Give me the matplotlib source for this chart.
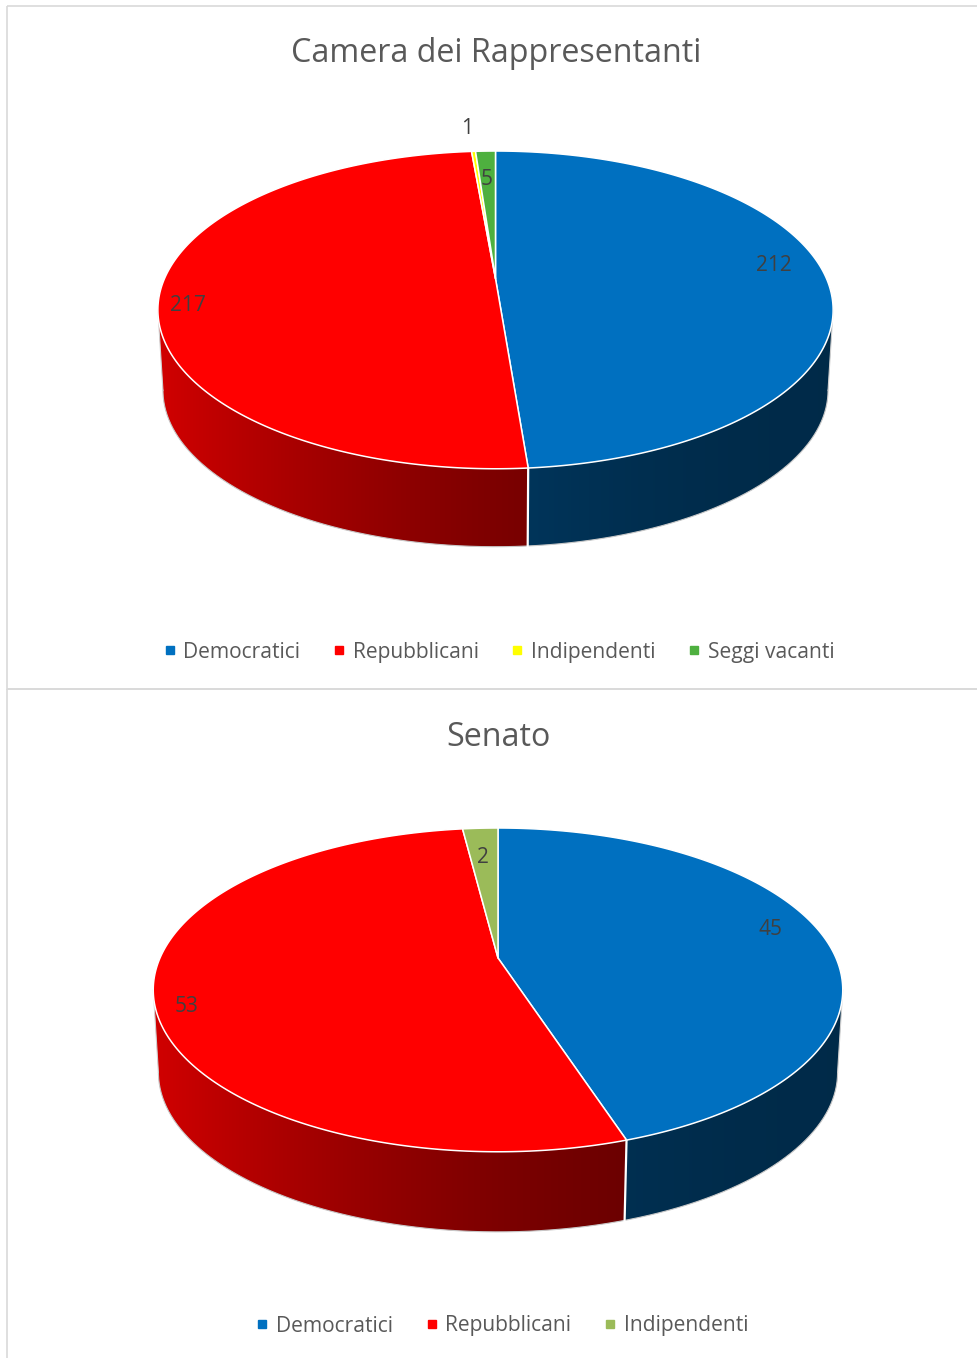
import numpy as np
import matplotlib
matplotlib.use("Agg")
import matplotlib.pyplot as plt
from matplotlib.patches import Polygon, Rectangle
from matplotlib.lines import Line2D
from matplotlib.colors import to_rgb

# ---------------------------------------------------------------- data
camera_title  = 'Camera dei Rappresentanti'
camera_labels = ['Democratici', 'Repubblicani', 'Indipendenti', 'Seggi vacanti']
camera_values = [212, 217, 1, 5]
camera_colors = ['#0070C0', '#FF0000', '#FFFF00', '#4EB03F']

senato_title  = 'Senato'
senato_labels = ['Democratici', 'Repubblicani', 'Indipendenti']
senato_values = [45, 53, 2]
senato_colors = ['#0070C0', '#FF0000', '#9BBB59']

W, H = 977, 1358
FONT = 'Open Sans'
TXT = '#595959'
LBL = '#404040'
PERSP = 0.197   # strength of the perspective (far side smaller)


def shade(u):
    # light comes from the left: darker towards the right of the side wall
    return 0.38 + 0.44 * ((1 - u) / 2) ** 2


def pie3d(ax, values, colors, cx, cy, rx, ry, depth, s=0.985, k=PERSP):
    # (cx, cy) is the projected centre of the disc; angles run clockwise from the back
    def top(th, r=1.0):
        px, py = r * np.sin(th), r * np.cos(th)
        d = 1 + k * py
        return cx + rx * px / d, cy - ry * py / d

    def bottom(th):
        px, py = np.sin(th), np.cos(th)
        d = 1 + k * py
        return cx + s * rx * px / d, cy + depth - s * ry * py / d

    total = float(sum(values))
    bounds = np.concatenate([[0], np.cumsum(values)]) / total * 360
    lo = np.degrees(np.arccos(-k))
    hi = 360 - lo
    wide = rx / np.sqrt(1 - k ** 2)
    u = np.linspace(-1, 1, 400)

    # side walls (visible front part), horizontal gradient
    for i in range(len(values)):
        a0, a1 = max(bounds[i], lo), min(bounds[i + 1], hi)
        if a1 <= a0:
            continue
        th = np.radians(np.linspace(a0, a1, 200))
        xt, yt = top(th)
        xb, yb = bottom(th)
        pts = np.vstack([np.column_stack([xt, yt]), np.column_stack([xb, yb])[::-1]])
        poly = Polygon(pts, closed=True, facecolor='none', edgecolor='none')
        ax.add_patch(poly)
        base = np.array(to_rgb(colors[i]))
        grad = (base[None, :] * shade(u)[:, None])[None, :, :]
        im = ax.imshow(grad, extent=(cx - wide, cx + wide, cy + 2 * ry + depth, cy - 2 * ry),
                       aspect='auto', interpolation='bilinear', zorder=2)
        im.set_clip_path(poly)

    # faint outline of the wall
    t = np.radians(np.linspace(lo, hi, 200))
    xb, yb = bottom(t)
    ax.plot(xb, yb, color='#C8C8C8', lw=0.8, zorder=2.5)
    for a in (lo, hi):
        ta = np.radians(a)
        x0, y0 = top(ta)
        x1, y1 = bottom(ta)
        ax.plot([x0, x1], [y0, y1], color='#D0D0D0', lw=0.8, zorder=2.5)

    # white seams on the wall
    for b in bounds[1:-1]:
        if lo < b < hi:
            tb = np.radians(b)
            x0, y0 = top(tb)
            x1, y1 = bottom(tb)
            ax.plot([x0, x1], [y0, y1], color='white', lw=1.6, zorder=3)

    # top face
    for i in range(len(values)):
        n = max(3, int((bounds[i + 1] - bounds[i]) / 0.5))
        th = np.radians(np.linspace(bounds[i], bounds[i + 1], n + 1))
        xt, yt = top(th)
        pts = np.vstack([[cx, cy], np.column_stack([xt, yt])])
        ax.add_patch(Polygon(pts, closed=True, facecolor=colors[i], edgecolor='white',
                             lw=1.1, joinstyle='round', zorder=4))

    # data labels
    for i, v in enumerate(values):
        mid = (bounds[i] + bounds[i + 1]) / 2
        sm = np.sin(np.radians(mid))
        ang = np.radians(mid - 5 * abs(sm))
        if v / total < 0.005:
            r = 1.25
        elif v / total < 0.05:
            r = 0.77
        else:
            r = 0.89 - 0.025 * sm
        x, y = top(ang, r)
        ax.text(x, y + 3, str(v), ha='center', va='center', fontsize=15, color=LBL,
                family=FONT, zorder=6)


fig = plt.figure(figsize=(W / 100, H / 100), dpi=100)
ax = fig.add_axes([0, 0, 1, 1])
ax.set_xlim(0, W)
ax.set_ylim(H, 0)
ax.axis('off')

# panel frames
ax.add_patch(Rectangle((7, 6), W + 5, 683, fill=False, edgecolor='#D9D9D9', lw=1.2, zorder=1))
ax.add_patch(Rectangle((7, 689), W + 5, 680, fill=False, edgecolor='#D9D9D9', lw=1.2, zorder=1))

# Camera
ax.text(496, 53, camera_title, ha='center', va='center', fontsize=23.2, color=TXT, family=FONT)
pie3d(ax, camera_values, camera_colors, 495.5, 278.6, 331, 152.7, 80.8)

# Senato
ax.text(498, 737, senato_title, ha='center', va='center', fontsize=23.2, color=TXT, family=FONT)
pie3d(ax, senato_values, senato_colors, 498, 958, 338, 155.6, 83)

ax.set_xlim(0, W)
ax.set_ylim(H, 0)


def add_legend(labels, colors, ycenter, xcenter):
    handles = [Line2D([], [], marker='s', linestyle='none', markersize=5.5, color=c)
               for c in colors]
    leg = fig.legend(handles, labels, loc='center', bbox_to_anchor=(xcenter / W, 1 - ycenter / H),
                     ncol=len(labels), frameon=False, handlelength=0.6, handletextpad=0.35,
                     columnspacing=1.55, prop={'family': FONT, 'size': 15.1}, labelcolor=TXT)
    return leg


add_legend(camera_labels, camera_colors, 652, 499)
add_legend(senato_labels, senato_colors, 1326, 502)

fig.savefig('out.png', dpi=100)
